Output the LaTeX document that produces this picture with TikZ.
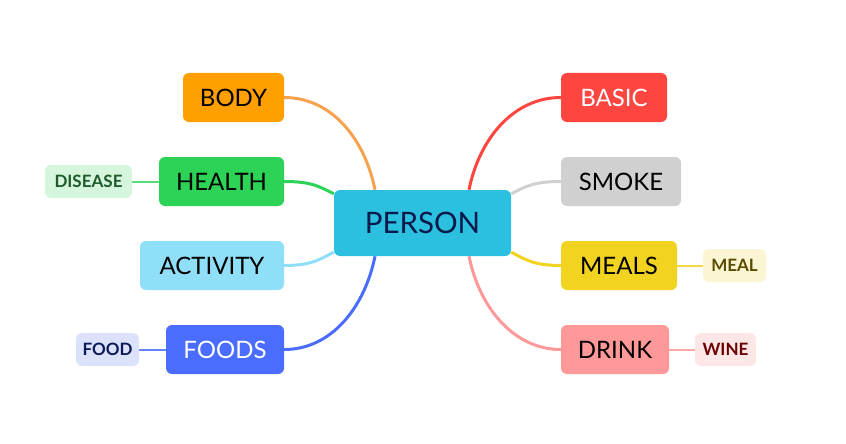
\documentclass[tikz,border=0pt]{standalone}
\usepackage{fontspec}
\setmainfont{Lato}
\usetikzlibrary{backgrounds}
\definecolor{cPerson}{HTML}{2BBFE0}
\definecolor{cPersonT}{HTML}{0A1A4A}
\definecolor{cBody}{HTML}{FFA000}
\definecolor{cBodyL}{HTML}{F7A24E}
\definecolor{cHealth}{HTML}{2CD356}
\definecolor{cAct}{HTML}{90DFF8}
\definecolor{cFoods}{HTML}{4A6CFF}
\definecolor{cBasic}{HTML}{FF4540}
\definecolor{cSmoke}{HTML}{D0D0D0}
\definecolor{cMeals}{HTML}{F2D320}
\definecolor{cDrink}{HTML}{FF9898}
\definecolor{cDisease}{HTML}{D5F5DD}
\definecolor{cDiseaseT}{HTML}{1E5A2A}
\definecolor{cFood}{HTML}{DDE2FB}
\definecolor{cFoodT}{HTML}{0A1A5A}
\definecolor{cMeal}{HTML}{FCF5D3}
\definecolor{cMealT}{HTML}{5A4A00}
\definecolor{cWine}{HTML}{FDE6E6}
\definecolor{cWineT}{HTML}{6A0000}
\tikzset{
  box/.style={rounded corners=6pt, inner sep=0pt, minimum height=49pt, font=\fontsize{24}{26}\selectfont},
  sub/.style={rounded corners=6pt, inner sep=0pt, minimum height=33pt, font=\fontsize{17}{19}\selectfont\bfseries},
  link/.style={line width=3pt},
  sublink/.style={line width=2pt}
}
\begin{document}
\begin{tikzpicture}[x=1pt,y=-1pt]
\useasboundingbox (0,0) rectangle (846,444);
\node[box, fill=cPerson, text=cPersonT, minimum width=177pt, minimum height=66pt, font=\fontsize{29.5}{32}\selectfont] (P) at (422.5,223) {PERSON};
\node[box, fill=cBody] (B) at (233.5,97.5) [minimum width=101pt] {BODY};
\node[box, fill=cHealth] (H) at (221.5,181.5) [minimum width=125pt] {HEALTH};
\node[box, fill=cAct] (A) at (212,265.5) [minimum width=144pt] {ACTIVITY};
\node[box, fill=cFoods, text=white] (F) at (225,349.5) [minimum width=118pt] {FOODS};
\node[sub, fill=cDisease, text=cDiseaseT] (D) at (88.5,181.5) [minimum width=87pt] {DISEASE};
\node[sub, fill=cFood, text=cFoodT] (FD) at (107.5,349.5) [minimum width=63pt] {FOOD};
\node[box, fill=cBasic, text=white] (BA) at (614,97.5) [minimum width=106pt] {BASIC};
\node[box, fill=cSmoke] (S) at (621,181.5) [minimum width=120pt] {SMOKE};
\node[box, fill=cMeals] (M) at (619,265.5) [minimum width=116pt] {MEALS};
\node[box, fill=cDrink] (DR) at (615,349.5) [minimum width=108pt] {DRINK};
\node[sub, fill=cMeal, text=cMealT] (ML) at (734.5,265.5) [minimum width=63pt] {MEAL};
\node[sub, fill=cWine, text=cWineT] (W) at (725.5,349.5) [minimum width=61pt] {WINE};
\begin{scope}[on background layer]
\draw[link, cBodyL] (B.east) .. controls +(48,0) and +(-10,-50) .. ([xshift=-47.5pt]P.north);
\draw[link, cHealth] (H.east) .. controls +(28,0) and +(-14,-7) .. ([yshift=-4pt]P.north west);
\draw[link, cAct] (A.east) .. controls +(28,0) and +(-14,7) .. ([yshift=4pt]P.south west);
\draw[link, cFoods] (F.east) .. controls +(48,0) and +(-10,50) .. ([xshift=-47.5pt]P.south);
\draw[link, cBasic] (BA.west) .. controls +(-48,0) and +(10,-50) .. ([xshift=46.5pt]P.north);
\draw[link, cSmoke] (S.west) .. controls +(-28,0) and +(14,-7) .. ([yshift=-4pt]P.north east);
\draw[link, cMeals] (M.west) .. controls +(-28,0) and +(14,7) .. ([yshift=4pt]P.south east);
\draw[link, cDrink] (DR.west) .. controls +(-48,0) and +(10,50) .. ([xshift=46.5pt]P.south);
\draw[sublink, cHealth!80!white] (D.east) -- (H.west);
\draw[sublink, cFoods!85!white] (FD.east) -- (F.west);
\draw[sublink, cMeals!85!white] (M.east) -- (ML.west);
\draw[sublink, cDrink!85!white] (DR.east) -- (W.west);
\end{scope}
\end{tikzpicture}
\end{document}
